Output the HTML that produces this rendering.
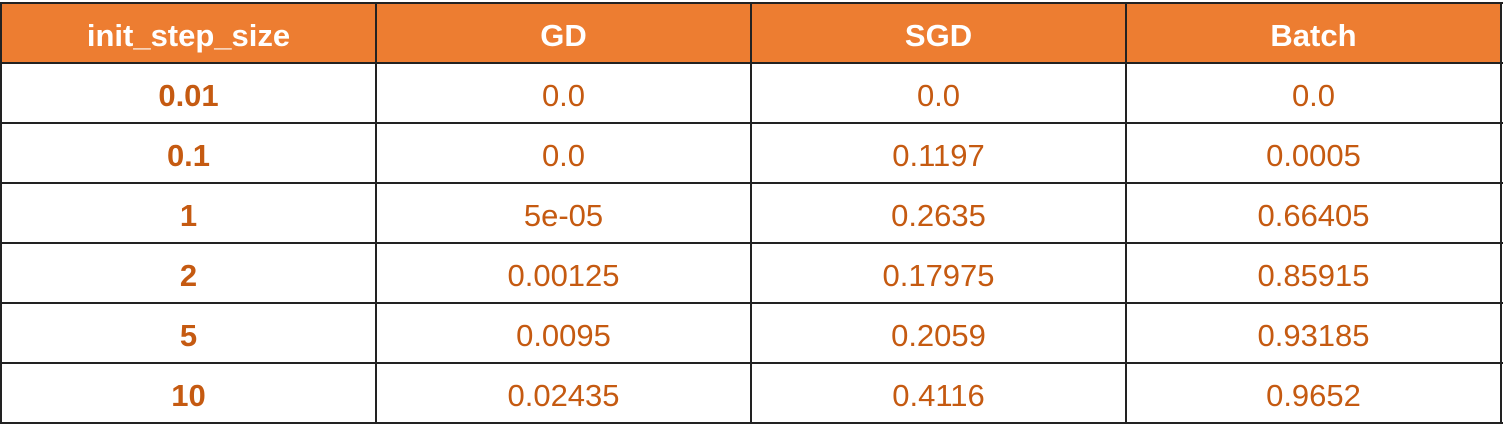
<!DOCTYPE html>
<html><head><meta charset="utf-8"><style>
body{margin:0;width:1504px;height:441px;background:#fff;position:relative;overflow:hidden;font-family:"Liberation Sans",sans-serif}
.c{position:absolute;display:flex;align-items:center;justify-content:center;font-size:31px;color:#C55A11;box-sizing:border-box;padding-top:5px}
.h{background:#ED7D31;color:#fff;font-weight:bold;font-size:31px}
.b{font-weight:bold}
.l{position:absolute;background:#222}
</style></head><body>
<div id="t"></div>
<script>
const headers=["init_step_size","GD","SGD","Batch"];
const steps=["0.01","0.1","1","2","5","10"];
const gd=["0.0","0.0","5e-05","0.00125","0.0095","0.02435"];
const sgd=["0.0","0.1197","0.2635","0.17975","0.2059","0.4116"];
const batch=["0.0","0.0005","0.66405","0.85915","0.93185","0.9652"];
const t=document.getElementById('t');
const xs=[1,376,751,1126,1501], ys=[3,63,123,183,243,303,363,423];
const cols=[steps,gd,sgd,batch];
for(let r=0;r<7;r++)for(let c=0;c<4;c++){
 const d=document.createElement('div');
 d.className='c'+(r==0?' h':(c==0?' b':''));
 d.style.left=xs[c]+'px';d.style.top=ys[r]+'px';
 d.style.width=(xs[c+1]-xs[c])+'px';d.style.height=(ys[r+1]-ys[r])+'px';
 d.textContent=r==0?headers[c]:cols[c][r-1];
 
 
 t.appendChild(d);
}
ys.forEach(y=>{const l=document.createElement('div');l.className='l';l.style.left='0px';l.style.top=(y-1)+'px';l.style.width='1503px';l.style.height='2px';


t.appendChild(l);});
xs.forEach(x=>{const l=document.createElement('div');l.className='l';l.style.left=(x-1)+'px';l.style.top='2px';l.style.width='2px';l.style.height='422px';


t.appendChild(l);});
</script>
</body></html>
